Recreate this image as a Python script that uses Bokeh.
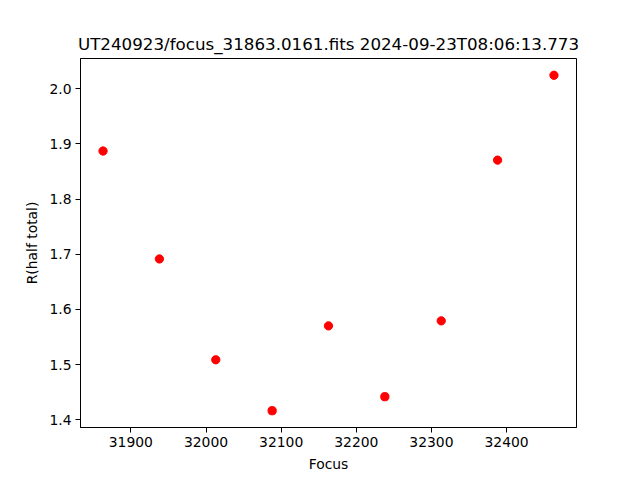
from bokeh.plotting import figure
from bokeh.models import Range1d, FixedTicker, PrintfTickFormatter
from bokeh.embed import file_html
from bokeh.resources import INLINE

focus = [31863, 31938, 32013, 32088, 32163, 32238, 32313, 32388, 32463]
r_half = [1.887, 1.6915, 1.5089, 1.4166, 1.5703, 1.442, 1.5794, 1.8705, 2.0242]
x_ticks = [31900, 32000, 32100, 32200, 32300, 32400]
y_ticks = [1.4, 1.5, 1.6, 1.7, 1.8, 1.9, 2.0]
title = "UT240923/focus_31863.0161.fits 2024-09-23T08:06:13.773"

FONT = "DejaVu Sans"

xmin, xmax = min(focus), max(focus)
ymin, ymax = min(r_half), max(r_half)
xp = 0.05 * (xmax - xmin)
yp = 0.05 * (ymax - ymin)

p = figure(width=632, height=472, output_backend="svg", toolbar_location=None,
           x_range=Range1d(xmin - xp, xmax + xp), y_range=Range1d(ymin - yp, ymax + yp),
           frame_width=496, frame_height=369,
           min_border_left=80, min_border_top=58, min_border_right=56, min_border_bottom=45)

p.title.text = title
p.title.text_font = FONT
p.title.text_font_size = "16.7px"
p.title.text_font_style = "normal"
p.title.align = "center"
p.title.text_color = "black"

p.scatter(focus, r_half, size=8.3, color="red", line_color="red")

p.grid.visible = False
p.outline_line_color = "black"
p.outline_line_alpha = 1.0
p.outline_line_width = 1

for ax, lab, ticks in ((p.xaxis[0], "Focus", x_ticks), (p.yaxis[0], "R(half total)", y_ticks)):
    ax.ticker = FixedTicker(ticks=ticks)
    ax.axis_label = lab
    ax.axis_label_text_font = FONT
    ax.axis_label_text_font_size = "13.9px"
    ax.axis_label_text_font_style = "normal"
    ax.axis_label_text_color = "black"
    ax.major_label_text_font = FONT
    ax.major_label_text_font_size = "13.9px"
    ax.major_label_text_color = "black"
    ax.major_tick_in = 0
    ax.major_tick_out = 5
    ax.minor_tick_line_color = None
    ax.axis_line_color = "black"
    ax.major_tick_line_color = "black"
    ax.major_label_standoff = 4
    ax.axis_label_standoff = 6

p.yaxis[0].formatter = PrintfTickFormatter(format="%.1f")
p.yaxis[0].major_label_orientation = 0

open("out.html", "w").write(file_html(p, INLINE))
